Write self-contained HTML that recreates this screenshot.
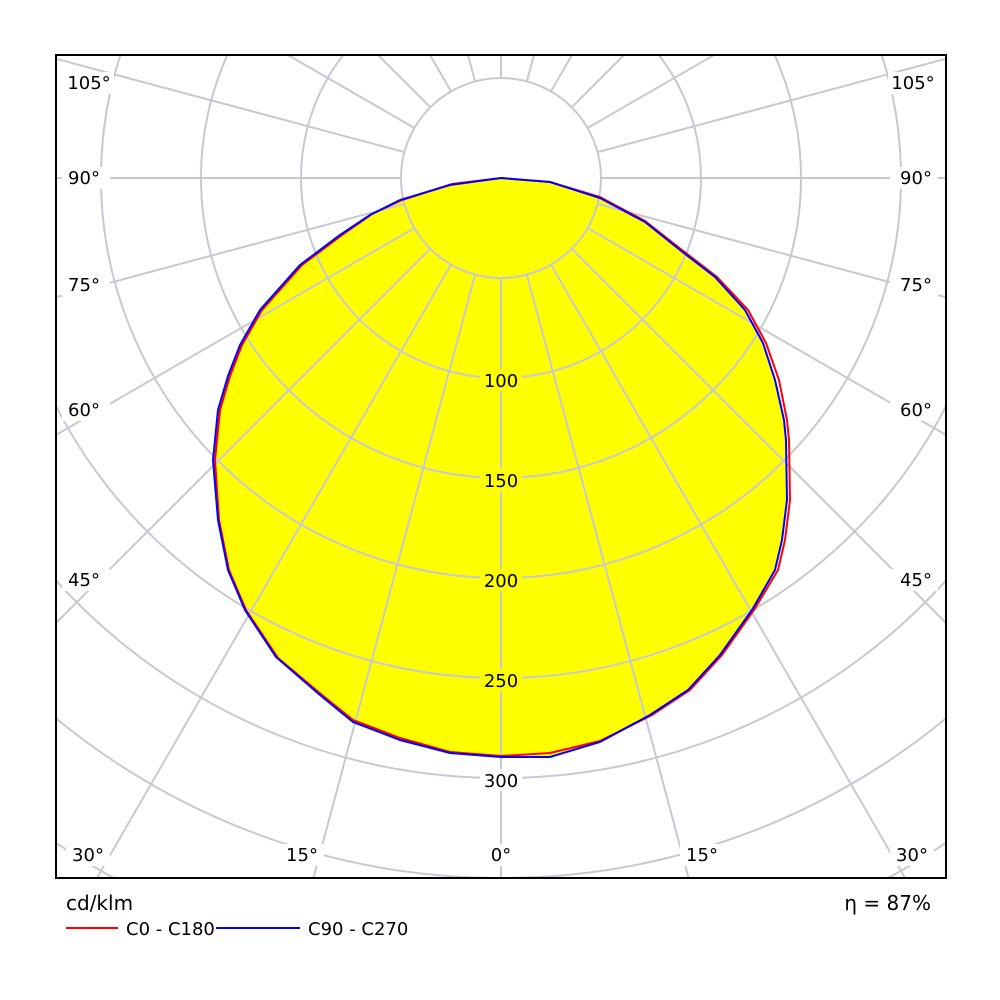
<!DOCTYPE html>
<html><head><style>html,body{margin:0;background:#fff;overflow:hidden;width:1000px;height:1000px}svg{display:block;overflow:hidden}text{font-family:"DejaVu Sans","Liberation Sans",sans-serif;font-size:18px;fill:#000}</style></head>
<body>
<svg width="1000" height="1000" viewBox="0 0 1000 1000">
<defs><clipPath id="c"><rect x="56" y="55" width="890" height="823"/></clipPath></defs>
<g clip-path="url(#c)">
<polygon fill="#ffff00" points="501,178 550,182 600,198 645,222 680,250 715,277 745,310 763,343 775,380 784,420 786,440 787,500 782,540 775,570 752,610 720,655 688,690 650,715 600,742 550,757 501,757 450,753 400,740 353,722 320,695 276,657 245,610 228,570 218,520 213,460 218,410 228,376 240,345 260,310 300,265 340,235 370,215 400,200 450,185"/>
<g stroke="#c8c8d0" stroke-width="2" fill="none">
<circle cx="501" cy="178" r="100"/><circle cx="501" cy="178" r="200"/><circle cx="501" cy="178" r="300"/><circle cx="501" cy="178" r="400"/><circle cx="501" cy="178" r="500"/><circle cx="501" cy="178" r="600"/><circle cx="501" cy="178" r="700"/><circle cx="501" cy="178" r="800"/><circle cx="501" cy="178" r="900"/>
<line x1="501" y1="278" x2="501" y2="1678" transform="rotate(0 501 178)"/>
<line x1="501" y1="278" x2="501" y2="1678" transform="rotate(15 501 178)"/>
<line x1="501" y1="278" x2="501" y2="1678" transform="rotate(30 501 178)"/>
<line x1="501" y1="278" x2="501" y2="1678" transform="rotate(45 501 178)"/>
<line x1="501" y1="278" x2="501" y2="1678" transform="rotate(60 501 178)"/>
<line x1="501" y1="278" x2="501" y2="1678" transform="rotate(75 501 178)"/>
<line x1="501" y1="278" x2="501" y2="1678" transform="rotate(90 501 178)"/>
<line x1="501" y1="278" x2="501" y2="1678" transform="rotate(105 501 178)"/>
<line x1="501" y1="278" x2="501" y2="1678" transform="rotate(120 501 178)"/>
<line x1="501" y1="278" x2="501" y2="1678" transform="rotate(135 501 178)"/>
<line x1="501" y1="278" x2="501" y2="1678" transform="rotate(150 501 178)"/>
<line x1="501" y1="278" x2="501" y2="1678" transform="rotate(165 501 178)"/>
<line x1="501" y1="278" x2="501" y2="1678" transform="rotate(180 501 178)"/>
<line x1="501" y1="278" x2="501" y2="1678" transform="rotate(195 501 178)"/>
<line x1="501" y1="278" x2="501" y2="1678" transform="rotate(210 501 178)"/>
<line x1="501" y1="278" x2="501" y2="1678" transform="rotate(225 501 178)"/>
<line x1="501" y1="278" x2="501" y2="1678" transform="rotate(240 501 178)"/>
<line x1="501" y1="278" x2="501" y2="1678" transform="rotate(255 501 178)"/>
<line x1="501" y1="278" x2="501" y2="1678" transform="rotate(270 501 178)"/>
<line x1="501" y1="278" x2="501" y2="1678" transform="rotate(285 501 178)"/>
<line x1="501" y1="278" x2="501" y2="1678" transform="rotate(300 501 178)"/>
<line x1="501" y1="278" x2="501" y2="1678" transform="rotate(315 501 178)"/>
<line x1="501" y1="278" x2="501" y2="1678" transform="rotate(330 501 178)"/>
<line x1="501" y1="278" x2="501" y2="1678" transform="rotate(345 501 178)"/>
</g>
<polyline fill="none" stroke="#ff0000" stroke-width="2" points="501,178 550,182 600,197 645,221 682,250 717,277 748,310 766,343 779,380 787,420 789,440 790,500 785,540 778,570 754,610 722,655 690,690 652,715 600,741 550,753 501,756 450,752 400,738 353,720 322,695 278,658 246,610 229,570 219,520 215,460 220,410 230,376 242,345 262,310 302,265 342,235 372,214 402,200 452,184 501,178"/>
<polyline fill="none" stroke="#0000ff" stroke-width="2" points="501,178 550,182 600,198 645,222 680,250 715,277 745,310 763,343 775,380 784,420 786,440 787,500 782,540 775,570 752,610 720,655 688,690 650,715 600,742 550,757 501,757 450,753 400,740 353,722 320,695 276,657 245,610 228,570 218,520 213,460 218,410 228,376 240,345 260,310 300,265 340,235 370,215 400,200 450,185 501,178"/>
</g>
<rect x="56" y="55" width="890" height="823" fill="none" stroke="#000" stroke-width="2"/>
<g text-anchor="middle">
<rect x="480" y="369" width="42" height="22" fill="#ffff00"/><text x="501" y="387">100</text>
<rect x="480" y="469" width="42" height="22" fill="#ffff00"/><text x="501" y="487">150</text>
<rect x="480" y="569" width="42" height="22" fill="#ffff00"/><text x="501" y="587">200</text>
<rect x="480" y="669" width="42" height="22" fill="#ffff00"/><text x="501" y="687">250</text>
<rect x="480" y="769" width="42" height="22" fill="#fff"/><text x="501" y="787">300</text>
<rect x="62" y="72" width="52" height="22" fill="#fff"/><text x="89" y="89">105°</text>
<rect x="62" y="167" width="48" height="22" fill="#fff"/><text x="84" y="184">90°</text>
<rect x="62" y="274" width="48" height="22" fill="#fff"/><text x="84" y="291">75°</text>
<rect x="62" y="399" width="48" height="22" fill="#fff"/><text x="84" y="416">60°</text>
<rect x="62" y="569" width="48" height="22" fill="#fff"/><text x="84" y="586">45°</text>
<rect x="66" y="844" width="44" height="22" fill="#fff"/><text x="88" y="861">30°</text>
<rect x="280" y="844" width="44" height="22" fill="#fff"/><text x="302" y="861">15°</text>
<rect x="481" y="844" width="40" height="22" fill="#fff"/><text x="501" y="861">0°</text>
<rect x="680" y="844" width="44" height="22" fill="#fff"/><text x="702" y="861">15°</text>
<rect x="890" y="844" width="44" height="22" fill="#fff"/><text x="912" y="861">30°</text>
<rect x="888" y="72" width="52" height="22" fill="#fff"/><text x="913" y="89">105°</text>
<rect x="890" y="167" width="48" height="22" fill="#fff"/><text x="916" y="184">90°</text>
<rect x="890" y="274" width="48" height="22" fill="#fff"/><text x="916" y="291">75°</text>
<rect x="890" y="399" width="48" height="22" fill="#fff"/><text x="916" y="416">60°</text>
<rect x="890" y="569" width="48" height="22" fill="#fff"/><text x="916" y="586">45°</text>
</g>
<text x="66" y="910" style="font-size:20px">cd/klm</text>
<text x="931" y="910" text-anchor="end" style="font-size:20px">η = 87%</text>
<line x1="66" y1="928" x2="118" y2="928" stroke="#f00" stroke-width="2"/>
<text x="126" y="935">C0 - C180</text>
<line x1="216" y1="928" x2="300" y2="928" stroke="#00f" stroke-width="2"/>
<text x="308" y="935">C90 - C270</text>
</svg>
</body></html>
